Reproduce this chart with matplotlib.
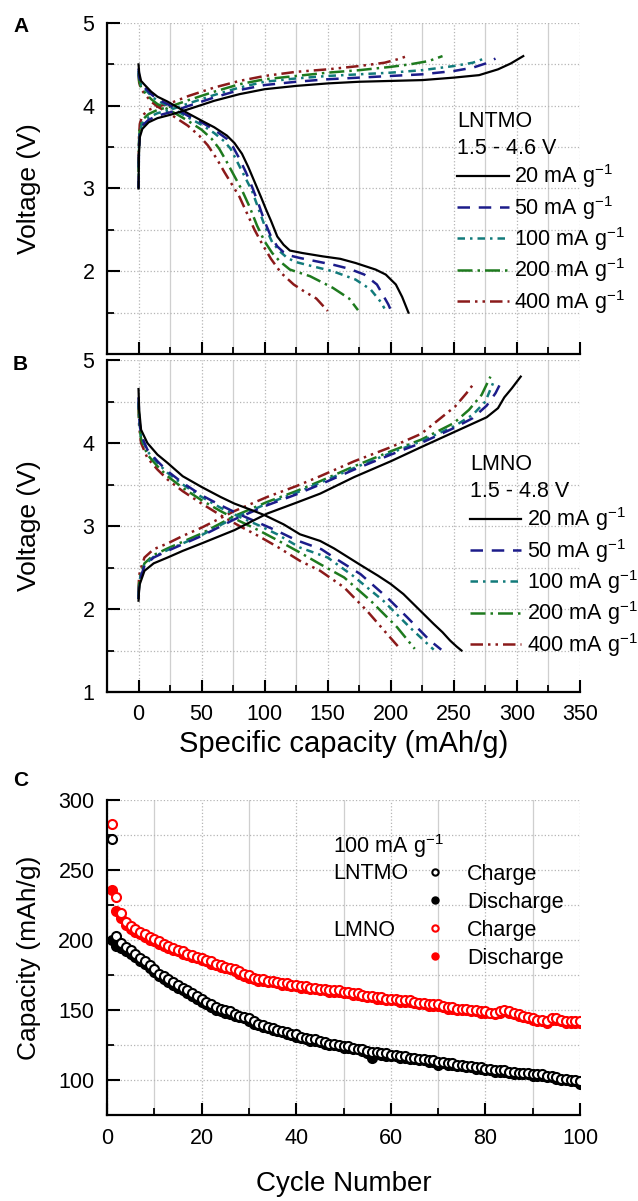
import numpy as np
import matplotlib
matplotlib.use('Agg')
import matplotlib.pyplot as plt
from matplotlib.ticker import MultipleLocator

plt.rcParams['font.family'] = ['Liberation Sans', 'DejaVu Sans']
plt.rcParams['mathtext.fontset'] = 'custom'
plt.rcParams['mathtext.rm'] = 'Liberation Sans'
plt.rcParams['mathtext.it'] = 'Liberation Sans:italic'
plt.rcParams['mathtext.bf'] = 'Liberation Sans:bold'

# Corrientes y estilos
rates = ['20', '50', '100', '200', '400']
colores = ['black', '#1c1c8a', '#127b7b', '#1e7a1e', '#8b1a1a']
estilos = ['-', (0, (5, 3.5)), (0, (3, 2, 1, 2)), (0, (6, 2, 1, 2)), (0, (5, 2, 1, 2, 1, 2))]

# Panel A: LNTMO, carga (capacidad mAh/g, voltaje V)
a_chg_q = [
    [0, 0.3, 1, 3, 8, 15, 25, 40, 60, 80, 100, 125, 150, 175, 200, 225, 250, 270, 285, 295, 305],
    [0, 0.3, 1, 3, 8, 15, 25, 40, 60, 80, 100, 125, 150, 175, 200, 225, 250, 265, 275, 283],
    [0, 0.3, 1, 3, 8, 15, 25, 40, 60, 80, 100, 125, 150, 175, 200, 225, 250, 265, 276],
    [0, 0.3, 1, 3, 8, 15, 25, 40, 60, 80, 100, 125, 150, 175, 200, 215, 230, 241],
    [0, 0.3, 1, 3, 8, 15, 25, 40, 60, 80, 100, 125, 150, 175, 195, 205, 213],
]
a_chg_v = [
    [3.0, 3.4, 3.62, 3.72, 3.80, 3.85, 3.89, 3.96, 4.06, 4.14, 4.20, 4.24, 4.27, 4.29, 4.30, 4.31, 4.34, 4.37, 4.44, 4.51, 4.60],
    [3.0, 3.45, 3.66, 3.76, 3.83, 3.88, 3.92, 4.0, 4.1, 4.19, 4.25, 4.29, 4.32, 4.34, 4.36, 4.38, 4.42, 4.46, 4.51, 4.57],
    [3.0, 3.5, 3.69, 3.79, 3.86, 3.91, 3.95, 4.03, 4.13, 4.22, 4.29, 4.33, 4.36, 4.38, 4.40, 4.43, 4.48, 4.52, 4.58],
    [3.2, 3.55, 3.73, 3.83, 3.9, 3.95, 3.99, 4.07, 4.17, 4.26, 4.32, 4.36, 4.40, 4.43, 4.47, 4.50, 4.54, 4.60],
    [3.3, 3.6, 3.78, 3.88, 3.95, 3.99, 4.03, 4.12, 4.22, 4.30, 4.36, 4.41, 4.44, 4.48, 4.52, 4.56, 4.60],
]
# Panel A: descarga
a_dis_q = [
    [0, 0.5, 2, 5, 10, 15, 23, 30, 39, 50, 60, 70, 76, 82, 87, 92, 97, 101, 105, 110, 115, 120, 130, 146, 160, 172, 180, 188, 196, 204, 209, 214],
    [0, 0.5, 2, 5, 10, 15, 23, 30, 39, 50, 60, 70, 75, 80, 85, 90, 95, 100, 105, 110, 115, 120, 128, 141, 154, 167, 179, 189, 198, 200],
    [0, 0.5, 2, 5, 10, 15, 23, 30, 39, 50, 60, 68, 73, 78, 84, 90, 95, 100, 106, 112, 118, 125, 138, 154, 172, 184, 192, 195],
    [0, 0.5, 2, 5, 10, 15, 23, 30, 39, 50, 58, 64, 70, 76, 82, 88, 94, 100, 106, 112, 120, 136, 154, 167, 174],
    [0, 0.5, 2, 5, 10, 15, 23, 30, 39, 48, 55, 62, 68, 74, 80, 86, 92, 98, 105, 113, 123, 131, 141, 150],
]
a_dis_v = [
    [4.5, 4.4, 4.3, 4.25, 4.17, 4.11, 4.05, 3.99, 3.91, 3.82, 3.74, 3.64, 3.55, 3.42, 3.26, 3.08, 2.9, 2.75, 2.61, 2.42, 2.32, 2.25, 2.22, 2.18, 2.15, 2.1, 2.06, 2.02, 1.96, 1.84, 1.69, 1.5],
    [4.45, 4.35, 4.27, 4.22, 4.14, 4.08, 4.02, 3.96, 3.88, 3.8, 3.71, 3.6, 3.5, 3.36, 3.2, 3.02, 2.82, 2.6, 2.42, 2.3, 2.23, 2.19, 2.16, 2.12, 2.08, 2.03, 1.96, 1.84, 1.6, 1.53],
    [4.42, 4.33, 4.25, 4.2, 4.12, 4.06, 4.0, 3.94, 3.86, 3.77, 3.67, 3.57, 3.48, 3.33, 3.15, 2.97, 2.76, 2.55, 2.35, 2.24, 2.16, 2.11, 2.06, 2.0, 1.9, 1.78, 1.63, 1.55],
    [4.4, 4.3, 4.22, 4.16, 4.08, 4.02, 3.96, 3.9, 3.82, 3.71, 3.6, 3.48, 3.32, 3.15, 2.98, 2.78, 2.55, 2.36, 2.22, 2.12, 2.02, 1.94, 1.8, 1.67, 1.53],
    [4.38, 4.28, 4.2, 4.14, 4.05, 3.99, 3.92, 3.85, 3.76, 3.64, 3.52, 3.36, 3.2, 3.05, 2.9, 2.7, 2.5, 2.33, 2.15, 1.98, 1.84, 1.76, 1.67, 1.52],
]

# Panel B: LMNO, carga
b_chg_q = [
    [0, 0.3, 1, 4.7, 12, 23, 35, 50, 76, 102, 125, 144, 171, 200, 224, 250, 276, 285, 290, 296, 303],
    [0, 0.3, 1, 4.7, 12, 23, 35, 50, 76, 102, 125, 144, 171, 200, 224, 250, 265, 276, 283, 288],
    [0, 0.3, 1, 4.7, 12, 23, 35, 50, 76, 102, 125, 144, 171, 200, 224, 250, 265, 275, 281],
    [0, 0.3, 1, 4.7, 12, 23, 35, 50, 76, 102, 125, 144, 171, 200, 224, 250, 262, 272, 279],
    [0, 0.3, 1, 4.7, 12, 23, 35, 50, 76, 102, 125, 144, 171, 200, 224, 251, 260, 266],
]
b_chg_v = [
    [2.1, 2.2, 2.3, 2.46, 2.55, 2.62, 2.7, 2.79, 2.95, 3.15, 3.28, 3.39, 3.59, 3.78, 3.95, 4.13, 4.31, 4.42, 4.55, 4.66, 4.8],
    [2.12, 2.25, 2.35, 2.52, 2.62, 2.7, 2.78, 2.88, 3.08, 3.25, 3.38, 3.5, 3.68, 3.86, 4.0, 4.18, 4.3, 4.45, 4.6, 4.75],
    [2.12, 2.26, 2.36, 2.53, 2.63, 2.71, 2.79, 2.89, 3.1, 3.27, 3.4, 3.52, 3.7, 3.88, 4.02, 4.2, 4.34, 4.5, 4.72],
    [2.15, 2.28, 2.38, 2.55, 2.65, 2.73, 2.81, 2.91, 3.12, 3.29, 3.42, 3.54, 3.72, 3.9, 4.04, 4.24, 4.4, 4.58, 4.8],
    [2.2, 2.35, 2.45, 2.62, 2.72, 2.79, 2.88, 2.98, 3.18, 3.35, 3.48, 3.6, 3.78, 3.95, 4.11, 4.44, 4.6, 4.72],
]
# Panel B: descarga
b_dis_q = [
    [0, 0.5, 2, 7, 15, 23, 35, 50, 65, 76, 90, 100, 115, 128, 144, 155, 176, 190, 200, 210, 218, 226, 234, 241, 247, 252, 256],
    [0, 0.5, 2, 7, 15, 23, 35, 50, 65, 80, 95, 110, 125, 134, 145, 155, 176, 197, 213, 231, 240],
    [0, 0.5, 2, 7, 15, 23, 35, 50, 65, 80, 95, 110, 128, 150, 170, 194, 215, 234],
    [0, 0.5, 2, 7, 15, 23, 35, 50, 65, 80, 95, 110, 128, 144, 163, 184, 205, 219],
    [0, 0.5, 2, 7, 15, 23, 35, 50, 65, 80, 95, 110, 128, 144, 163, 181, 197, 208],
]
b_dis_v = [
    [4.65, 4.4, 4.16, 4.0, 3.86, 3.76, 3.6, 3.47, 3.35, 3.27, 3.19, 3.13, 3.02, 2.9, 2.82, 2.73, 2.53, 2.4, 2.3, 2.18, 2.06, 1.94, 1.82, 1.72, 1.62, 1.55, 1.5],
    [4.55, 4.3, 4.1, 3.92, 3.78, 3.66, 3.52, 3.37, 3.25, 3.14, 3.04, 2.94, 2.83, 2.78, 2.72, 2.62, 2.42, 2.14, 1.9, 1.62, 1.51],
    [4.5, 4.28, 4.08, 3.9, 3.76, 3.64, 3.5, 3.35, 3.22, 3.11, 3.01, 2.9, 2.74, 2.62, 2.4, 2.1, 1.78, 1.51],
    [4.48, 4.25, 4.05, 3.86, 3.72, 3.6, 3.46, 3.31, 3.18, 3.06, 2.95, 2.83, 2.68, 2.54, 2.38, 2.1, 1.78, 1.52],
    [4.45, 4.2, 4.0, 3.82, 3.68, 3.56, 3.42, 3.27, 3.13, 3.0, 2.88, 2.75, 2.58, 2.46, 2.26, 1.98, 1.7, 1.51],
]

# Panel C: ciclado a 100 mA/g
ciclos = np.arange(1, 101)
lntmo_carga = [
    272, 203, 198, 195, 193, 190, 187, 185, 182, 179,
    176, 174, 172, 170, 168, 166, 164, 162, 160, 158,
    156, 154, 152, 151, 150, 149, 147, 146, 145, 144,
    142, 140, 139, 138, 137, 136, 135, 134, 133, 133,
    131, 130, 129, 129, 128, 127, 126, 126, 125, 124,
    124, 123, 122, 122, 121, 120, 120, 119, 119, 118,
    118, 117, 117, 116, 116, 115, 115, 114, 114, 113,
    113, 112, 112, 111, 111, 110, 110, 109, 109, 108,
    108, 107, 107, 107, 106, 106, 105, 105, 105, 104,
    104, 104, 103, 103, 102, 101, 101, 100, 100, 99,
]
lntmo_descarga = [
    200, 196, 194, 192, 190, 188, 185, 183, 180, 177,
    174, 172, 170, 168, 166, 164, 162, 160, 158, 156,
    154, 152, 150, 149, 148, 147, 146, 145, 144, 142,
    140, 139, 138, 137, 136, 135, 134, 133, 132, 131,
    130, 129, 128, 128, 127, 126, 125, 125, 124, 123,
    123, 122, 122, 121, 119, 116, 119, 118, 117, 117,
    117, 116, 116, 115, 115, 114, 114, 113, 113, 111,
    112, 111, 111, 110, 110, 109, 109, 108, 108, 107,
    107, 106, 106, 106, 105, 104, 104, 104, 104, 103,
    103, 103, 102, 102, 101, 100, 100, 99, 99, 97,
]
lmno_carga = [
    283, 231, 219, 213, 210, 208, 206, 204, 202, 201,
    199, 197, 196, 194, 193, 192, 190, 189, 188, 187,
    186, 185, 183, 182, 181, 180, 179, 178, 176, 175,
    173, 172, 172, 171, 171, 170, 169, 169, 168, 168,
    167, 167, 166, 166, 165, 165, 164, 164, 164, 163,
    163, 162, 162, 161, 160, 160, 159, 159, 158, 158,
    158, 157, 157, 157, 156, 155, 155, 154, 154, 154,
    153, 152, 152, 151, 151, 151, 150, 150, 149, 149,
    148, 148, 149, 150, 149, 148, 147, 146, 145, 144,
    143, 143, 142, 144, 144, 143, 142, 142, 142, 142,
]
lmno_descarga = [
    236, 221, 216, 211, 208, 206, 204, 202, 200, 199,
    197, 196, 194, 193, 192, 190, 189, 188, 187, 186,
    185, 183, 182, 181, 180, 179, 178, 176, 174, 173,
    172, 171, 171, 170, 170, 169, 168, 168, 167, 167,
    166, 166, 165, 165, 164, 164, 163, 163, 163, 162,
    162, 161, 161, 160, 159, 159, 158, 158, 157, 157,
    157, 156, 156, 156, 155, 154, 154, 153, 153, 153,
    152, 151, 151, 150, 150, 150, 149, 149, 148, 148,
    148, 147, 148, 149, 148, 147, 146, 145, 144, 143,
    142, 142, 141, 143, 143, 142, 141, 141, 141, 141,
]

FS = 15.5
W, H = 638, 1201


def caja(l, t, r, b):
    return [l / W, 1 - b / H, (r - l) / W, (b - t) / H]


def estilo(ax, xmaj, xmin, ymaj, ymin):
    for s in ['top', 'right']:
        ax.spines[s].set_visible(False)
    for s in ['left', 'bottom']:
        ax.spines[s].set_linewidth(1.6)
    ax.xaxis.set_major_locator(MultipleLocator(xmaj))
    ax.xaxis.set_minor_locator(MultipleLocator(xmin))
    ax.yaxis.set_major_locator(MultipleLocator(ymaj))
    ax.yaxis.set_minor_locator(MultipleLocator(ymin))
    ax.tick_params(which='major', direction='in', length=9, width=1.5, labelsize=FS, pad=9)
    ax.tick_params(which='minor', direction='in', length=5, width=1.3)
    ax.grid(which='major', axis='x', color='#b5b5b5', linestyle=':', linewidth=0.9)
    ax.grid(which='minor', axis='x', color='#cfcfcf', linestyle='-', linewidth=0.9)
    ax.grid(which='both', axis='y', color='#b5b5b5', linestyle=':', linewidth=0.9)
    ax.set_axisbelow(True)
    ax.yaxis.set_label_coords(-0.14, 0.5)


fig = plt.figure(figsize=(6.38, 12.01), dpi=100)
axA = fig.add_axes(caja(107, 23, 580, 354))
axB = fig.add_axes(caja(107, 360, 580, 692))
axC = fig.add_axes(caja(107, 800, 580, 1115))

# Paneles A y B
for ax, cq, cv, dq, dv, titulo, pos in [
        (axA, a_chg_q, a_chg_v, a_dis_q, a_dis_v, 'LNTMO\n1.5 - 4.6 V', (0.74, 0.733)),
        (axB, b_chg_q, b_chg_v, b_dis_q, b_dis_v, 'LMNO\n1.5 - 4.8 V', (0.767, 0.716))]:
    for i in range(4, -1, -1):
        lw = 1.6 if i == 0 else 1.8
        ax.plot(cq[i], cv[i], color=colores[i], linestyle=estilos[i], linewidth=lw)
        ax.plot(dq[i], dv[i], color=colores[i], linestyle=estilos[i], linewidth=lw,
                label=rates[i] + ' mA g$^{-1}$')
    ax.set_xlim(-25, 350)
    ax.set_ylim(1, 5)
    estilo(ax, 50, 25, 1, 0.5)
    ax.set_ylabel('Voltage (V)', fontsize=19)
    h, l = ax.get_legend_handles_labels()
    leg = ax.legend(h[::-1], l[::-1], loc='upper left', bbox_to_anchor=pos,
                    frameon=False, fontsize=FS, title=titulo, title_fontsize=FS,
                    alignment='left', handlelength=2.4, handletextpad=0.25,
                    labelspacing=0.16, borderpad=0, borderaxespad=0)
    leg.get_title().set_linespacing(1.35)

axA.set_yticks([2, 3, 4, 5])
axA.tick_params(labelbottom=False)
axB.set_xlabel('Specific capacity (mAh/g)', fontsize=21, labelpad=3)

# Panel C
l1, = axC.plot(ciclos, lntmo_descarga, 'o', color='black', markersize=6.5, mew=1.5)
l2, = axC.plot(ciclos, lntmo_carga, 'o', color='black', mfc='white', markersize=6.5, mew=1.5)
l3, = axC.plot(ciclos, lmno_descarga, 'o', color='red', markersize=6.5, mew=1.5)
l4, = axC.plot(ciclos, lmno_carga, 'o', color='red', mfc='white', markersize=6.5, mew=1.5)
axC.set_xlim(0, 100)
axC.set_ylim(75, 300)
estilo(axC, 20, 10, 50, 25)
axC.set_ylabel('Capacity (mAh/g)', fontsize=19)
axC.set_xlabel('Cycle Number', fontsize=20, labelpad=16)
axC.legend([l2, l1, l4, l3], ['Charge', 'Discharge', 'Charge', 'Discharge'],
           loc='upper left', bbox_to_anchor=(0.67, 0.797), frameon=False, fontsize=FS,
           handlelength=1.0, handletextpad=1.0, labelspacing=0.32, markerscale=0.7,
           borderpad=0, borderaxespad=0)
axC.text(0.478, 0.853, '100 mA g$^{-1}$', transform=axC.transAxes, fontsize=FS, va='center')
axC.text(0.478, 0.768, 'LNTMO', transform=axC.transAxes, fontsize=FS, va='center')
axC.text(0.478, 0.585, 'LMNO', transform=axC.transAxes, fontsize=FS, va='center')

# Letras de panel
fig.text(13 / W, 1 - 27 / H, 'A', fontsize=15, fontweight='bold', va='center')
fig.text(13 / W, 1 - 365 / H, 'B', fontsize=15, fontweight='bold', va='center')
fig.text(13 / W, 1 - 780 / H, 'C', fontsize=15, fontweight='bold', va='center')

fig.savefig('out.png', dpi=100)
